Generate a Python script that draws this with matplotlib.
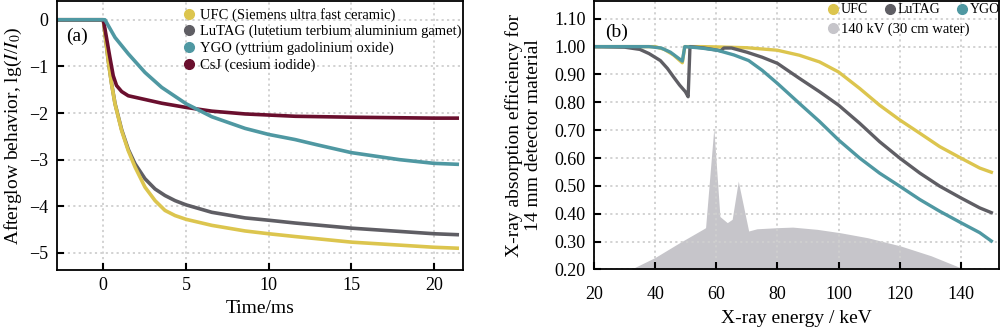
"""
Afterglow and X-ray absorption efficiency of scintillator materials
(a) afterglow decay, (b) absorption efficiency vs energy
"""
import matplotlib
matplotlib.use("Agg")
import matplotlib.pyplot as plt
from matplotlib.lines import Line2D

plt.rcParams["font.family"] = ["Liberation Serif", "DejaVu Serif"]
plt.rcParams["mathtext.fontset"] = "stix"

# ----- (a) afterglow data -----
t_ufc = [-2.8, 0, 0.3, 0.5, 0.71, 1.11, 1.51, 1.92, 2.52, 3.13, 3.73, 4.34, 5, 6.56, 8.57, 10, 11.6, 15, 20, 21.4]
g_ufc = [0, 0, -0.88, -1.38, -1.81, -2.38, -2.81, -3.16, -3.59, -3.88, -4.09, -4.2, -4.28, -4.41, -4.53, -4.59, -4.65, -4.77, -4.88, -4.9]

t_lutag = [-2.8, 0, 0.3, 0.5, 0.71, 1.11, 1.51, 1.92, 2.52, 3.13, 3.73, 4.34, 5, 6.56, 8.57, 10, 11.6, 15, 20, 21.4]
g_lutag = [0, 0, -0.88, -1.37, -1.8, -2.36, -2.78, -3.09, -3.41, -3.63, -3.77, -3.88, -3.97, -4.13, -4.25, -4.3, -4.36, -4.47, -4.59, -4.61]

t_ygo = [-2.8, 0.1, 0.71, 1.51, 2.52, 3.53, 5, 6.56, 8.57, 10, 11.6, 12.9, 15, 17.9, 20, 21.4]
g_ygo = [0, 0, -0.38, -0.73, -1.13, -1.45, -1.8, -2.08, -2.33, -2.46, -2.57, -2.68, -2.85, -3.0, -3.08, -3.1]

t_csj = [-2.8, 0, 0.2, 0.4, 0.6, 0.8, 1.11, 1.51, 2.52, 3.53, 5, 6.56, 8.57, 11.6, 15, 20, 21.4]
g_csj = [0, 0, -0.4, -0.81, -1.2, -1.41, -1.54, -1.63, -1.71, -1.79, -1.88, -1.96, -2.02, -2.07, -2.09, -2.11, -2.11]

# ----- (b) absorption data -----
e_ufc = [20, 40, 43, 46, 48.9, 49.7, 55, 60, 70, 80, 87.2, 93.8, 100, 106.9, 113.4, 120, 126.6, 133.1, 140, 146.2, 150]
a_ufc = [1.0, 1.0, 0.99, 0.97, 0.942, 1.0, 1.0, 0.999, 0.996, 0.987, 0.969, 0.945, 0.909, 0.85, 0.79, 0.737, 0.689, 0.641, 0.60, 0.564, 0.549]

e_lutag = [20, 30, 35, 38, 41.7, 44, 46.1, 48, 49.9, 50.8, 51.4, 56, 61.5, 62.5, 65, 70, 75, 80, 87.2, 93.8, 100,
           106.9, 113.4, 120, 126.6, 133.1, 140, 146.2, 150]
a_lutag = [1.0, 0.998, 0.99, 0.975, 0.95, 0.922, 0.89, 0.862, 0.838, 0.82, 1.0, 0.995, 0.985, 0.995, 0.995, 0.98,
           0.962, 0.94, 0.886, 0.838, 0.79, 0.725, 0.659, 0.60, 0.546, 0.499, 0.457, 0.421, 0.404]

e_ygo = [20, 38, 42, 45, 48.9, 49.7, 55, 60.3, 65.8, 70.6, 75, 80, 87.2, 93.8, 100, 106.9, 113.4, 120, 126.6,
         133.1, 140, 146.2, 150]
a_ygo = [1.0, 1.0, 0.995, 0.98, 0.948, 1.0, 0.995, 0.987, 0.97, 0.95, 0.915, 0.868, 0.796, 0.731, 0.665, 0.60,
         0.546, 0.499, 0.451, 0.409, 0.368, 0.332, 0.302]

e_spec = [32, 40, 48, 55.6, 56.5, 59.2, 61.2, 63.6, 65.2, 67.2, 70.6, 73.3, 80, 85, 93, 100.5, 109.5, 120.4, 130.3, 140.4, 141]
s_spec = [0.20, 0.243, 0.296, 0.344, 0.35, 0.707, 0.39, 0.368, 0.38, 0.517, 0.338, 0.346, 0.35, 0.352, 0.344, 0.332, 0.314, 0.284, 0.249, 0.204, 0.20]

c_ufc = "#dcc54e"
c_lutag = "#5f5e64"
c_ygo = "#4f98a2"
c_csj = "#6a0f2e"
c_spec = "#c6c5ca"
grid_kw = dict(color="#cfcfcf", linestyle=(0, (1.2, 1.8)), linewidth=1.3)

fig = plt.figure(figsize=(10, 3.29), dpi=100)

# ----- (a) -----
ax1 = fig.add_axes([0.057, 0.179, 0.406, 0.819])
ax1.plot(t_lutag, g_lutag, color=c_lutag, lw=2.6)
ax1.plot(t_ufc, g_ufc, color=c_ufc, lw=2.6)
ax1.plot(t_csj, g_csj, color=c_csj, lw=2.6)
ax1.plot(t_ygo, g_ygo, color=c_ygo, lw=2.6)
ax1.set_xlim(-2.8, 21.75)
ax1.set_ylim(-5.37, 0.41)
ax1.set_xticks([0, 5, 10, 15, 20])
ax1.set_yticks([0, -1, -2, -3, -4, -5])
ax1.set_yticklabels(["0", "\u22121", "\u22122", "\u22123", "\u22124", "\u22125"])
ax1.grid(True, **grid_kw)
ax1.tick_params(direction="in", labelsize=13, length=5, width=1.5)
ax1.tick_params(axis="y", pad=6)
ax1.tick_params(axis="x", pad=5)
ax1.set_xlabel("Time/ms", fontsize=14, labelpad=4)
ax1.set_ylabel(r"Afterglow behavior, lg($I$/$I_0$)", fontsize=14, labelpad=4)
ax1.text(0.022, 0.85, "(a)", transform=ax1.transAxes, fontsize=14)
for s in ax1.spines.values():
    s.set_linewidth(1.3)

names_a = ["UFC (Siemens ultra fast ceramic)", "LuTAG (lutetium terbium aluminium gamet)",
           "YGO (yttrium gadolinium oxide)", "CsJ (cesium iodide)"]
handles_a = [Line2D([], [], marker="o", ls="", color=c, markersize=7)
             for c in [c_ufc, c_lutag, c_ygo, c_csj]]
ax1.legend(handles_a, names_a, loc="upper left", bbox_to_anchor=(0.29, 0.995), frameon=False,
           fontsize=10.5, handletextpad=0.1, handlelength=1.2, labelspacing=0.22, borderaxespad=0)

# ----- (b) -----
ax2 = fig.add_axes([0.594, 0.181, 0.405, 0.817])
ax2.fill_between(e_spec, s_spec, 0.2, color=c_spec, lw=0)
ax2.plot(e_ufc, a_ufc, color=c_ufc, lw=2.4)
ax2.plot(e_lutag, a_lutag, color=c_lutag, lw=2.4)
ax2.plot(e_ygo, a_ygo, color=c_ygo, lw=2.4)
ax2.set_xlim(20, 152.5)
ax2.set_ylim(0.20, 1.165)
ax2.set_xticks([20, 40, 60, 80, 100, 120, 140])
ax2.set_yticks([0.2, 0.3, 0.4, 0.5, 0.6, 0.7, 0.8, 0.9, 1.0, 1.1])
ax2.set_yticklabels(["%.2f" % v for v in [0.2, 0.3, 0.4, 0.5, 0.6, 0.7, 0.8, 0.9, 1.0, 1.1]])
ax2.grid(True, **grid_kw)
ax2.tick_params(direction="in", labelsize=13, length=5, width=1.5)
ax2.tick_params(axis="y", pad=6)
ax2.tick_params(axis="x", pad=12)
ax2.set_xlabel("X-ray energy / keV", fontsize=14, labelpad=5)
ax2.set_ylabel("X-ray absorption efficiency for\n14 mm detector material", fontsize=14,
               labelpad=9, linespacing=1.1)
ax2.text(0.028, 0.865, "(b)", transform=ax2.transAxes, fontsize=14)
for s in ax2.spines.values():
    s.set_linewidth(1.3)

handles_b = [Line2D([], [], marker="o", ls="", color=c, markersize=7)
             for c in [c_ufc, c_lutag, c_ygo]]
leg_b = ax2.legend(handles_b, ["UFC", "LuTAG", "YGO"], ncol=3, loc="upper left",
                   bbox_to_anchor=(0.565, 1.0), frameon=False, fontsize=10, borderpad=0.2,
                   handletextpad=0.05, handlelength=1.0, columnspacing=1.1, borderaxespad=0)
ax2.add_artist(leg_b)
h_spec = Line2D([], [], marker="o", ls="", color=c_spec, markersize=7)
ax2.legend([h_spec], ["140 kV (30 cm water)"], loc="upper left", bbox_to_anchor=(0.565, 0.93),
           frameon=False, fontsize=10.5, borderpad=0.2, handletextpad=0.05, handlelength=1.0,
           borderaxespad=0)

fig.savefig("out.png", dpi=100)
